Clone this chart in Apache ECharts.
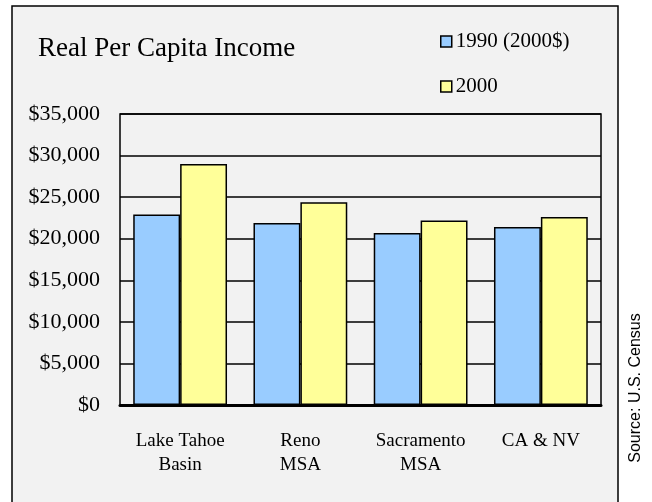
<!DOCTYPE html>
<html>
<head>
<meta charset="utf-8">
<script src="https://cdn.jsdelivr.net/npm/echarts@6/dist/echarts.min.js"></script>
<style>
html,body{margin:0;padding:0;background:#fff;}
#chart{width:652px;height:502px;}
</style>
</head>
<body>
<div id="chart"></div>
<script>
const categories = ['Lake Tahoe\nBasin', 'Reno\nMSA', 'Sacramento\nMSA', 'CA & NV'];
const seriesNames = ['1990 (2000$)', '2000'];
const income1990 = [22900, 21900, 20700, 21400];
const income2000 = [29000, 24400, 22200, 22600];
const yTicks = [0, 5000, 10000, 15000, 20000, 25000, 30000, 35000];

const serif = '"Liberation Serif", "Times New Roman", serif';
const chart = echarts.init(document.getElementById('chart'));
chart.setOption({
  backgroundColor: '#ffffff',
  animation: false,
  graphic: [
    {
      type: 'rect', z: -10,
      shape: { x: 12, y: 6, width: 606, height: 500 },
      style: { fill: '#f2f2f2', stroke: '#000', lineWidth: 1.5 }
    },
    {
      type: 'text', z: 10,
      x: 636, y: 388, rotation: Math.PI / 2,
      style: {
        text: 'Source: U.S. Census',
        fontFamily: '"Liberation Sans", Arial, sans-serif',
        fontSize: 16, fill: '#000',
        align: 'center', verticalAlign: 'middle'
      }
    }
  ],
  title: {
    text: 'Real Per Capita Income',
    left: 38, top: 35, padding: 0,
    textStyle: { fontFamily: serif, fontSize: 27, fontWeight: 'normal', color: '#000' }
  },
  legend: {
    orient: 'vertical',
    left: 440, top: 31, padding: 0,
    itemWidth: 11, itemHeight: 11, itemGap: 24,
    icon: 'rect',
    data: seriesNames,
    itemStyle: { borderColor: '#000', borderWidth: 1.5 },
    textStyle: { fontFamily: serif, fontSize: 21, color: '#000', lineHeight: 21, padding: [0, 0, 0, -1] }
  },
  grid: {
    left: 120, right: 51, top: 114, bottom: 97,
    show: true, borderColor: '#000', borderWidth: 1.5, backgroundColor: 'transparent'
  },
  xAxis: {
    type: 'category',
    data: categories,
    axisLine: { lineStyle: { color: '#000', width: 3 } },
    axisTick: { show: false },
    axisLabel: {
      fontFamily: serif, fontSize: 19, color: '#000', lineHeight: 24, margin: 24,
      interval: 0
    }
  },
  yAxis: {
    type: 'value',
    min: yTicks[0], max: yTicks[yTicks.length - 1], interval: yTicks[1] - yTicks[0],
    axisLine: { show: false },
    axisTick: { show: false },
    splitLine: { lineStyle: { color: '#000', width: 1.5 } },
    axisLabel: {
      fontFamily: serif, fontSize: 22, color: '#000', margin: 20,
      formatter: v => '$' + v.toLocaleString('en-US')
    }
  },
  series: [
    {
      name: seriesNames[0], type: 'bar', data: income1990,
      barGap: '0%', barCategoryGap: '22%',
      itemStyle: { color: '#99ccff', borderColor: '#000', borderWidth: 1.5 }
    },
    {
      name: seriesNames[1], type: 'bar', data: income2000,
      barGap: '0%', barCategoryGap: '22%',
      itemStyle: { color: '#ffff99', borderColor: '#000', borderWidth: 1.5 }
    }
  ]
});
</script>
</body>
</html>
